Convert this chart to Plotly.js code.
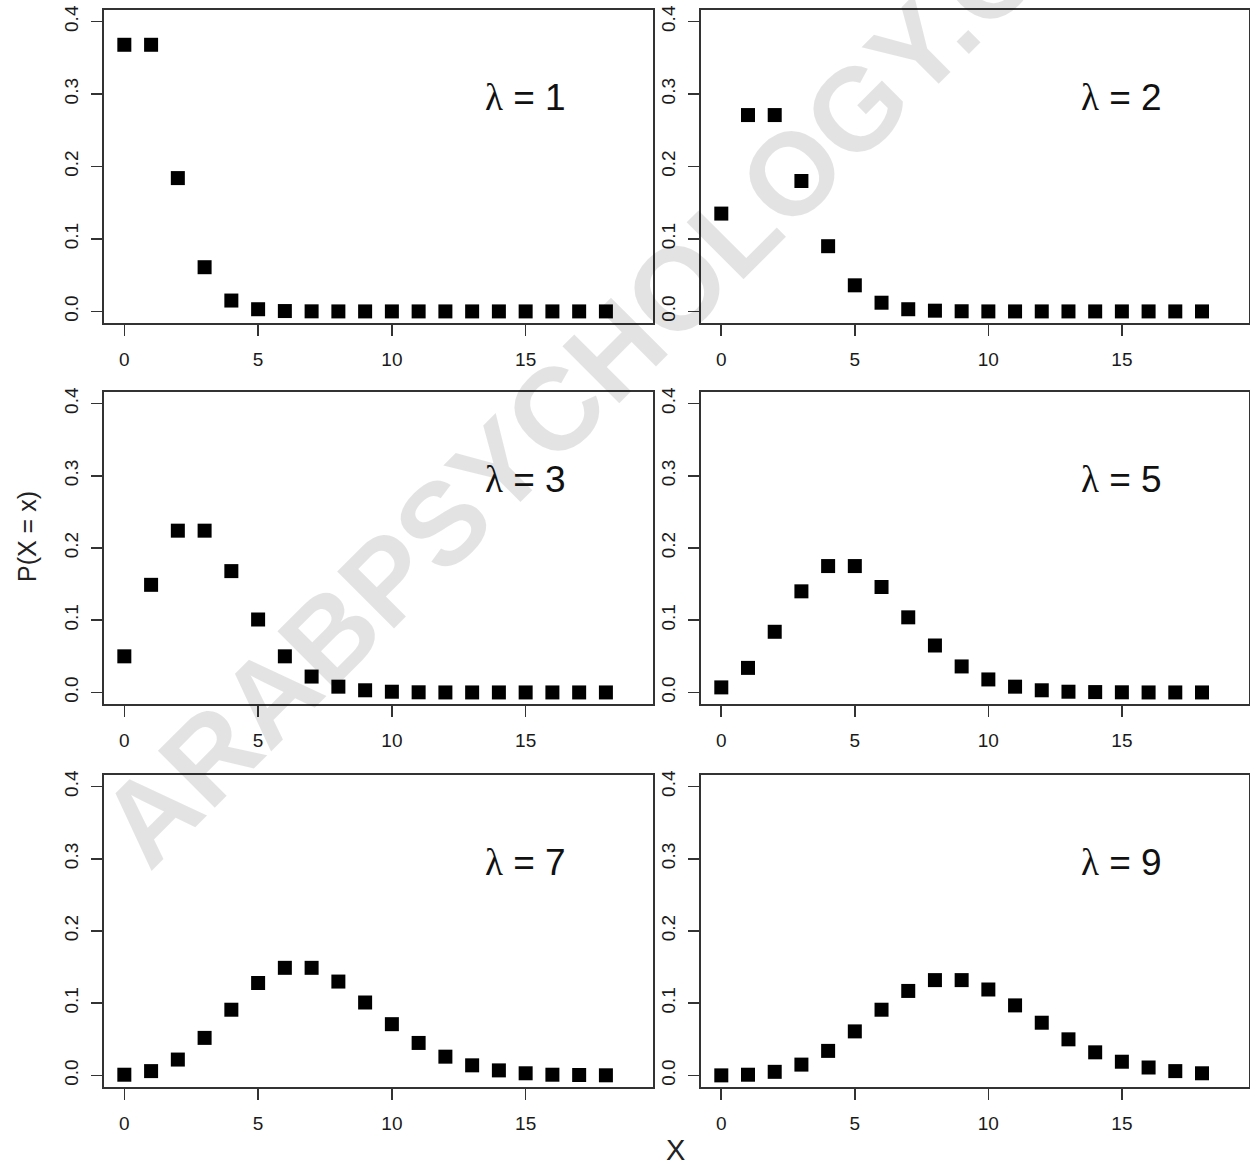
<!DOCTYPE html>
<html>
<head>
<meta charset="utf-8">
<script src="https://cdn.plot.ly/plotly-3.0.1.min.js"></script>
<style>html,body{margin:0;padding:0;background:#fff;}#chart{width:1250px;height:1168px;}</style>
</head>
<body>
<div id="chart"></div>
<script>
// ---- data ----
const xValues = [0,1,2,3,4,5,6,7,8,9,10,11,12,13,14,15,16,17,18];
const lambdas = [1, 2, 3, 5, 7, 9];
const pLambda1 = [0.368,0.368,0.184,0.061,0.015,0.003,0.0005,0.0001,0,0,0,0,0,0,0,0,0,0,0];
const pLambda2 = [0.135,0.271,0.271,0.180,0.090,0.036,0.012,0.003,0.001,0.0002,0,0,0,0,0,0,0,0,0];
const pLambda3 = [0.050,0.149,0.224,0.224,0.168,0.101,0.050,0.022,0.008,0.003,0.001,0.0002,0,0,0,0,0,0,0];
const pLambda5 = [0.007,0.034,0.084,0.140,0.175,0.175,0.146,0.104,0.065,0.036,0.018,0.008,0.003,0.001,0.0005,0.0002,0,0,0];
const pLambda7 = [0.001,0.006,0.022,0.052,0.091,0.128,0.149,0.149,0.130,0.101,0.071,0.045,0.026,0.014,0.007,0.003,0.001,0.0006,0.0002];
const pLambda9 = [0.0001,0.001,0.005,0.015,0.034,0.061,0.091,0.117,0.132,0.132,0.119,0.097,0.073,0.050,0.032,0.019,0.011,0.006,0.003];
const series = [pLambda1, pLambda2, pLambda3, pLambda5, pLambda7, pLambda9];
const xTickVals = [0, 5, 10, 15];
const yTickVals = [0.0, 0.1, 0.2, 0.3, 0.4];
const yTitle = "P(X = x)";
const xTitle = "X";
const watermark = "ARABPSYCHOLOGY.COM";

// ---- layout geometry (pixels) ----
const W = 1250, H = 1168;
const cols = [[104, 653], [701, 1249]];
const rows = [[10, 323], [392, 704], [775, 1087]];

const traces = [];
const layout = {
  width: W, height: H,
  margin: {l: 0, r: 0, t: 0, b: 0, pad: 0},
  paper_bgcolor: '#ffffff', plot_bgcolor: '#ffffff',
  showlegend: false,
  font: {family: 'Liberation Sans, Arial, sans-serif', color: '#222'},
  annotations: [],
  shapes: []
};

const tickFont = {family: 'Liberation Sans, Arial, sans-serif', size: 19, color: '#1a1a1a'};

series.forEach((ys, i) => {
  const r = Math.floor(i / 2), c = i % 2;
  const n = i + 1;
  const xa = 'xaxis' + (n === 1 ? '' : n), ya = 'yaxis' + (n === 1 ? '' : n);
  const xr = 'x' + (n === 1 ? '' : n), yr = 'y' + (n === 1 ? '' : n);
  traces.push({
    type: 'scatter', mode: 'markers', x: xValues, y: ys,
    xaxis: xr, yaxis: yr,
    marker: {symbol: 'square', size: 14, color: '#000000', line: {width: 0}},
    hoverinfo: 'x+y'
  });
  layout[xa] = {
    domain: [cols[c][0] / W, cols[c][1] / W],
    range: [-0.76, 19.76], anchor: yr,
    showgrid: false, zeroline: false,
    showline: true, mirror: true, linecolor: '#333', linewidth: 1.6,
    ticks: 'outside', ticklen: 11, tickwidth: 1.6, tickcolor: '#333',
    tickmode: 'array', tickvals: xTickVals, ticktext: xTickVals.map(String),
    tickfont: tickFont, ticklabelstandoff: 8, automargin: false
  };
  layout[ya] = {
    domain: [1 - rows[r][1] / H, 1 - rows[r][0] / H],
    range: [-0.016, 0.416], anchor: xr,
    showgrid: false, zeroline: false,
    showline: true, mirror: true, linecolor: '#333', linewidth: 1.6,
    ticks: 'outside', ticklen: 11, tickwidth: 1.6, tickcolor: '#333',
    tickmode: 'array', tickvals: yTickVals, ticktext: yTickVals.map(v => v.toFixed(1)),
    tickangle: -90, tickfont: tickFont, ticklabelstandoff: 6, automargin: false
  };
  layout.annotations.push({
    xref: xr, yref: yr, x: 15, y: 0.295,
    text: '<span style="font-family:Liberation Serif, DejaVu Serif, serif">λ</span> = ' + lambdas[i],
    showarrow: false, xanchor: 'center', yanchor: 'middle',
    font: {family: 'Liberation Sans, Arial, sans-serif', size: 37, color: '#111'}
  });
});

// watermark
layout.annotations.unshift({
  xref: 'paper', yref: 'paper', x: 636 / W, y: 1 - 330 / H,
  text: '<b>' + watermark + '</b>', showarrow: false, textangle: -45,
  xanchor: 'center', yanchor: 'middle',
  font: {family: 'Liberation Sans, Arial, sans-serif', size: 117, color: 'rgba(0,0,0,0.11)'}
});

// overall axis titles
layout.annotations.push({
  xref: 'paper', yref: 'paper', x: 27 / W, y: 1 - 537 / H,
  text: yTitle, showarrow: false, textangle: -90, xanchor: 'center', yanchor: 'middle',
  font: {family: 'Liberation Sans, Arial, sans-serif', size: 25, color: '#222'}
});
layout.annotations.push({
  xref: 'paper', yref: 'paper', x: 676 / W, y: 1 - 1150 / H,
  text: xTitle, showarrow: false, xanchor: 'center', yanchor: 'middle',
  font: {family: 'Liberation Sans, Arial, sans-serif', size: 29, color: '#222'}
});

Plotly.newPlot('chart', traces, layout, {staticPlot: true, displayModeBar: false});
</script>
</body>
</html>
